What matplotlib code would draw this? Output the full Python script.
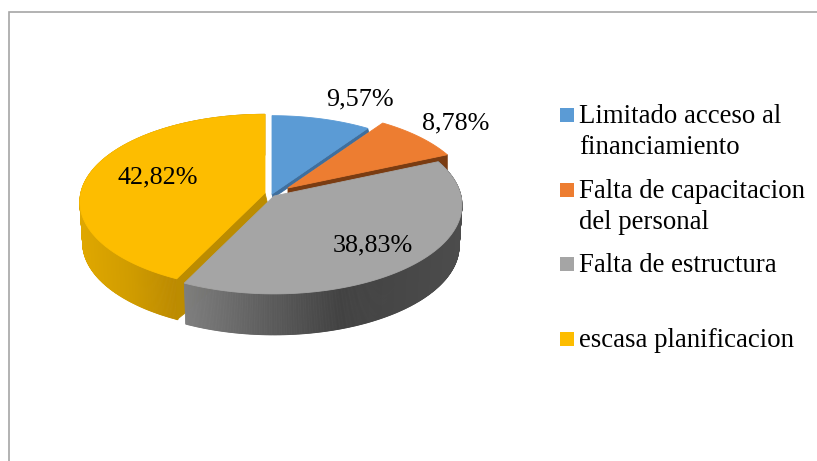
import numpy as np
import matplotlib
matplotlib.use('Agg')
import matplotlib.pyplot as plt
from matplotlib.patches import Polygon, Rectangle

categories = ['Limitado acceso al\nfinanciamiento', 'Falta de capacitacion\ndel personal',
              'Falta de estructura', 'escasa planificacion']
shares = [9.57, 8.78, 38.83, 42.82]
value_labels = ['9,57%', '8,78%', '38,83%', '42,82%']
colors = ['#5B9BD5', '#ED7D31', '#A5A5A5', '#FDBD00']
side_colors = ['#3F6F9E', '#7A3C12', '#6E6E6E', '#BC8C00']

plt.rcParams['font.family'] = ['Liberation Serif', 'DejaVu Serif']

# Disc seen in perspective: the back radius looks shorter than the front one.
A, B, k = 187, 88, 0.101
depth = 41
# Apex of each exploded slice in pixels, and how much smaller the slice looks.
apexes = [(272, 194), (288, 188), (274, 196), (265, 193)]
scales = [0.98, 0.97, 1.0, 0.985]


def project(apex, share, scale=1.0):
    # share is a position around the pie in percent, clockwise from 12 o'clock.
    t = np.deg2rad(np.asarray(share) * 3.6)
    u, v = np.sin(t), np.cos(t)
    w = 1 + k*v
    return apex[0] + scale*A*u/w, apex[1] - scale*B*v/w


def shade(x, stops):
    xs, cs = zip(*stops)
    return [np.interp(x, xs, [c[i] for c in cs])/255 for i in range(3)]


def fill(a, pts, c):
    a.add_patch(Polygon(pts, fc=c, ec=c, lw=0.6))


fig = plt.figure(figsize=(8.17, 4.61), dpi=100)
ax = fig.add_axes([0, 0, 1, 1])
ax.set_xlim(0, 817)
ax.set_ylim(461, 0)
ax.axis('off')

# Chart frame, only the top and left edges are in the picture.
ax.plot([9, 9, 817], [461, 12, 12], color='#A6A6A6', lw=1.2, solid_joinstyle='miter')

edges = np.concatenate([[0], np.cumsum(shares)])
edges = edges / edges[-1] * 100


def sector(i):
    s = np.linspace(edges[i], edges[i+1], 400)
    x, y = project(apexes[i], s, scales[i])
    return s, x, y


def top_face(i, x, y):
    fill(ax, np.c_[np.r_[apexes[i][0], x], np.r_[apexes[i][1], y]], colors[i])


def wall(i, s, x, y, stops):
    bx = apexes[i][0] + 0.985*(x - apexes[i][0])
    by = y + depth
    for j in range(len(s)-1):
        c = shade(x[j], stops)
        fill(ax, [(x[j], y[j]), (x[j+1], y[j+1]), (bx[j+1], by[j+1]), (bx[j], by[j])], c)


# Blue: thin dark strip along its cut edge, orange covers the rest of it.
s, x, y = sector(0)
ax_ = apexes[0]
fill(ax, [ax_, (x[-1], y[-1]), (x[-1] + 1, y[-1] + 4), (ax_[0] + 1, ax_[1] + 4)], side_colors[0])
top_face(0, x, y)

# Orange: brown cut face down to full depth, the gray slice hides most of it.
s, x, y = sector(1)
ap = apexes[1]
fill(ax, [ap, (x[-1], y[-1]), (x[-1], y[-1] + depth), (ap[0], ap[1] + depth)], side_colors[1])
top_face(1, x, y)

yellow_stops = [(78, (224, 168, 0)), (130, (208, 156, 0)), (176, (188, 138, 0))]
gray_stops = [(185, (126, 126, 126)), (270, (92, 92, 92)), (340, (66, 66, 66)), (461, (76, 76, 76))]

# Yellow wall and cut face.
s, x, y = sector(3)
wall(3, s, x, y, yellow_stops)
ap = apexes[3]
fill(ax, [ap, (x[0], y[0]), (x[0], y[0] + depth), (x[0] + 10, y[0] + depth - 8), (ap[0] + 10, ap[1] + depth)],
     side_colors[3])
top_face(3, x, y)

# Gray goes last, it sits in front of all the others.
s, x, y = sector(2)
wall(2, s, x, y, gray_stops)
top_face(2, x, y)

label_pos = [(360, 105), (456, 129), (373, 251), (158, 183)]
for txt, (lx, ly) in zip(value_labels, label_pos):
    ax.text(lx, ly, txt, fontsize=18.8, ha='center', va='baseline', color='black')

# Legend is laid out by hand, the spacing in the original is uneven.
legend_y = [122, 197, 271, 346]
for name, c, ly in zip(categories, colors, legend_y):
    ax.add_patch(Rectangle((560, ly - 14), 14, 14, fc=c, ec='none'))
    for n, line in enumerate(name.split('\n')):
        ax.text(579, ly + 1 + n*30.5, line, fontsize=19.3, ha='left', va='baseline', color='black')

fig.savefig('out.png', dpi=100)
